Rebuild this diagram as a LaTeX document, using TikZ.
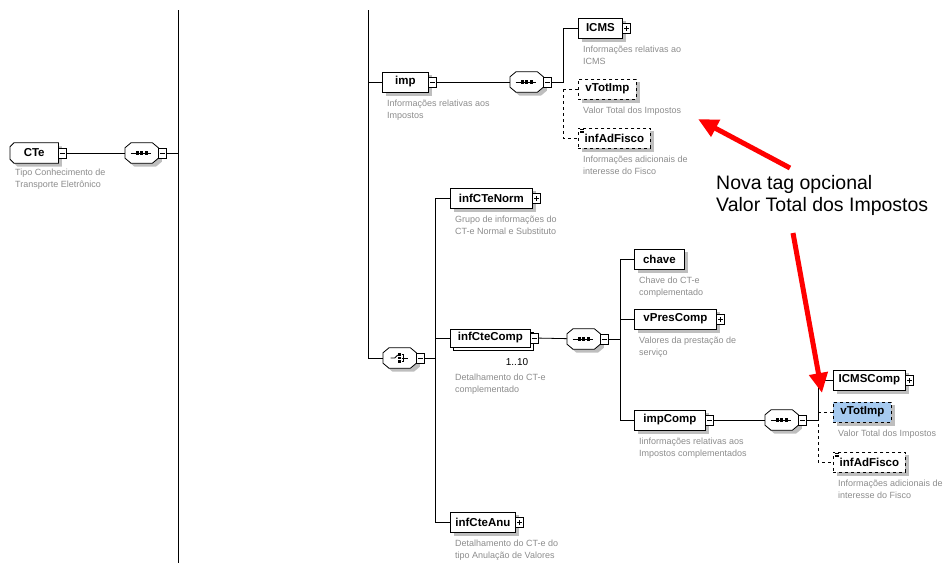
\documentclass[tikz,border=0pt]{standalone}
\usepackage{fontspec}
\setmainfont{Liberation Sans}
\usetikzlibrary{positioning}
\usetikzlibrary{shadows}
\usetikzlibrary{backgrounds}
\usetikzlibrary{arrows.meta}
\definecolor{descgray}{RGB}{140,140,140}
\definecolor{shadegray}{RGB}{190,190,190}
\definecolor{newblue}{RGB}{166,202,240}
\tikzset{
  shade box/.style = {preaction={fill=shadegray, transform canvas={shift={(3.5pt,-3.5pt)}}}},
  elemtext/.style = {minimum width=#1, minimum height=20pt, inner sep=0pt, anchor=west,
    font=\fontsize{11.5}{13}\selectfont\bfseries},
  elembase/.style = {elemtext=#1, draw, fill=white, line width=0.8pt},
  elem/.style = {elembase=#1},
  optelem/.style = {elem=#1, dashed},
  listelem/.style = {optelem=#1, path picture={
      \foreach \k in {1.5pt,3pt,4.5pt}
        \draw[solid, black, line width=0.5pt] ([xshift=2pt, yshift=-\k]path picture bounding box.north west) -- ++(4pt,0);}},
  multielem/.style = {elembase=#1, minimum height=18pt,
    copy shadow={shadow xshift=3pt, shadow yshift=-3pt, draw, fill=white, line width=0.8pt}},
  xbox/.style = {draw, fill=white, line width=0.7pt, minimum width=8pt, minimum height=10pt,
    inner sep=0pt, anchor=west},
  xminus/.style = {xbox, path picture={
      \draw[black, line width=0.7pt] ([xshift=-2.5pt]path picture bounding box.center) -- ([xshift=2.5pt]path picture bounding box.center);}},
  xplus/.style = {xbox, path picture={
      \draw[black, line width=0.7pt] ([xshift=-2.5pt]path picture bounding box.center) -- ([xshift=2.5pt]path picture bounding box.center)
        ([yshift=-2.5pt]path picture bounding box.center) -- ([yshift=2.5pt]path picture bounding box.center);}},
  compositor/.style = {minimum width=33pt, minimum height=20pt, inner sep=0pt, anchor=west},
  seqbox/.style = {compositor, path picture={
      \coordinate (pc) at (path picture bounding box.center);
      \draw[black, line width=1pt] ([xshift=-11pt]pc) -- ([xshift=9pt]pc);
      \foreach \d in {-4.5pt,0pt,4.5pt}
        \fill[black] ([xshift=\d]pc) +(-1.6pt,-1.6pt) rectangle +(1.6pt,1.6pt);}},
  choicebox/.style = {compositor, path picture={
      \coordinate (pc) at (path picture bounding box.center);
      \draw[black, line width=0.9pt] ([xshift=-9pt]pc) -- ([xshift=-5pt]pc) -- ([xshift=-2pt,yshift=3pt]pc);
      \foreach \d in {-3.5pt,0pt,3.5pt}
        \fill[black] ([yshift=\d]pc) +(-1.3pt,-1.3pt) rectangle +(1.3pt,1.3pt);
      \draw[black, line width=0.8pt] ([xshift=2pt,yshift=3.5pt]pc) -- ([xshift=4pt,yshift=3.5pt]pc)
        -- ([xshift=4pt,yshift=-3.5pt]pc) -- ([xshift=2pt,yshift=-3.5pt]pc)
        ([xshift=2pt]pc) -- ([xshift=8pt]pc);}},
  outline/.style = {draw, fill=white, line width=0.8pt, shade box},
  desc/.style = {font=\fontsize{9}{12}\selectfont, text=descgray, align=left, inner sep=0pt},
  card/.style = {font=\fontsize{10}{12}\selectfont, inner sep=0pt},
  note/.style = {font=\fontsize{19.5}{22}\selectfont, align=left, inner sep=0pt, anchor=north west},
  link/.style = {line width=0.8pt},
  redarrow/.style = {draw=red, line width=5pt, -{Triangle[length=20pt, width=18pt]}},
}

\begin{document}
\begin{tikzpicture}[x=1pt, y=-1pt]
  \useasboundingbox (0,0) rectangle (943,563);

  % root element
  \node [elemtext=48pt] (cte) at (10,153) {CTe};
  \node [xminus, right=-0.5pt of cte] (ctex) {};
  \node [desc, below right=6pt and 5pt of cte.south west] (cted) {Tipo Conhecimento de\\Transporte Eletrônico};
  \node [seqbox] (seqcte) at (125,153) {};
  \node [xminus, right=-0.5pt of seqcte] (seqctex) {};
  \coordinate (bar1) at (178,10);
  \coordinate (bar1end) at (178,563);
  \coordinate (bar2) at (368,10);
  \draw [link] (ctex) -- (seqcte);
  \draw [link] (bar1) -- (bar1end);
  \draw [link] (seqctex) -- (seqctex -| bar1);

  % imp
  \node [elem=46pt] (imp) at (382,82) {imp};
  \node [xminus, right=-0.5pt of imp] (impx) {};
  \node [desc, below right=7pt and 5pt of imp.south west] (impd) {Informações relativas aos\\Impostos};
  \node [seqbox] (seqimp) at (510,82) {};
  \node [xminus, right=-0.5pt of seqimp] (seqimpx) {};
  \node [elem=44pt] (icms) at (578,28) {ICMS};
  \node [xplus, right=-0.5pt of icms] (icmsx) {};
  \node [desc, below right=7pt and 5pt of icms.south west] (icmsd) {Informações relativas ao\\ICMS};
  \node [optelem=58pt] (vtot) at (578,89) {vTotImp};
  \node [desc, below right=7pt and 5pt of vtot.south west] (vtotd) {Valor Total dos Impostos};
  \node [listelem=72pt] (adfisco) at (578,138) {infAdFisco};
  \node [desc, below right=7pt and 5pt of adfisco.south west] (adfiscod) {Informações adicionais de\\interesse do Fisco};
  \coordinate (impbar) at ([xshift=-15pt]icms.west);
  \draw [link] (bar2 |- imp) -- (imp);
  \draw [link] (impx) -- (seqimp);
  \draw [link] (seqimpx) -| (impbar) -- (icms);
  \draw [link, dashed] (impbar |- vtot) -- (vtot);
  \draw [link, dashed] (impbar |- vtot) |- (adfisco);

  % choice
  \node [choicebox] (choice) at (383,358) {};
  \node [xminus, right=-0.5pt of choice] (choicex) {};
  \draw [link] (bar2) |- (choice);
  \node [elem=82pt] (norm) at (450,198) {infCTeNorm};
  \node [xplus, right=-0.5pt of norm] (normx) {};
  \node [desc, below right=7pt and 5pt of norm.south west] (normd) {Grupo de informações do\\CT-e Normal e Substituto};
  \node [multielem=80pt] (comp) at (450,338) {infCteComp};
  \node [xminus, right=-0.5pt of comp] (compx) {};
  \node [card] (compn) at (517,362) {1..10};
  \node [desc, below right=26pt and 5pt of comp.south west] (compd) {Detalhamento do CT-e\\complementado};
  \node [elem=65pt] (anu) at (450,522) {infCteAnu};
  \node [xplus, right=-0.5pt of anu] (anux) {};
  \node [desc, below right=7pt and 5pt of anu.south west] (anud) {Detalhamento do CT-e do\\tipo Anulação de Valores};
  \coordinate (chbar) at ([xshift=-15pt]norm.west);
  \draw [link] (choicex) -- (choicex -| chbar);
  \draw [link] (chbar) -- (norm);
  \draw [link] (chbar) |- (anu);
  \draw [link] (chbar |- comp) -- (comp);

  % infCteComp
  \node [seqbox] (seqcomp) at (567,339) {};
  \node [xminus, right=-0.5pt of seqcomp] (seqcompx) {};
  \draw [link] (compx) -- (seqcomp);
  \node [elem=50pt] (chave) at (634,259) {chave};
  \node [desc, below right=7pt and 5pt of chave.south west] (chaved) {Chave do CT-e\\complementado};
  \node [elem=82pt] (vpres) at (634,319) {vPresComp};
  \node [xplus, right=-0.5pt of vpres] (vpresx) {};
  \node [desc, below right=7pt and 5pt of vpres.south west] (vpresd) {Valores da prestação de\\serviço};
  \node [elem=71pt] (impcomp) at (634,420) {impComp};
  \node [xminus, right=-0.5pt of impcomp] (impcompx) {};
  \node [desc, below right=7pt and 5pt of impcomp.south west] (impcompd) {Iinformações relativas aos\\Impostos complementados};
  \coordinate (cpbar) at ([xshift=-14pt]chave.west);
  \draw [link] (seqcompx) -- (seqcompx -| cpbar);
  \draw [link] (cpbar) -- (chave);
  \draw [link] (cpbar) |- (impcomp);
  \draw [link] (cpbar |- vpres) -- (vpres);

  % impComp
  \node [seqbox] (seqimpc) at (765,420) {};
  \node [xminus, right=-0.5pt of seqimpc] (seqimpcx) {};
  \draw [link] (impcompx) -- (seqimpc);
  \node [elem=72pt] (icmsc) at (833,380) {ICMSComp};
  \node [xplus, right=-0.5pt of icmsc] (icmscx) {};
  \node [optelem=58pt, fill=newblue] (vtotc) at (833,412) {vTotImp};
  \node [desc, below right=7pt and 5pt of vtotc.south west] (vtotcd) {Valor Total dos Impostos};
  \node [listelem=72pt] (adfiscoc) at (833,462) {infAdFisco};
  \node [desc, below right=7pt and 5pt of adfiscoc.south west] (adfiscocd) {Informações adicionais de\\interesse do Fisco};
  \coordinate (icbar) at ([xshift=-15pt]icmsc.west);
  \draw [link] (seqimpcx) -| (icbar) -- (icmsc);
  \draw [link, dashed] (icbar |- vtotc) -- (vtotc);
  \draw [link, dashed] (icbar |- vtotc) |- (adfiscoc);

  % shadows and outlines
  \begin{pgfonlayer}{background}
    \foreach \n in {imp, icms, vtot, adfisco, norm, anu, chave, vpres, impcomp, icmsc, vtotc, adfiscoc}
      \fill [shadegray] ([shift={(3.5pt,-3.5pt)}]\n.south west) rectangle ([shift={(3.5pt,-3.5pt)}]\n.north east);
    \foreach \n in {seqcte, seqimp, choice, seqcomp, seqimpc}
      \draw [outline] ([xshift=6pt]\n.north west) -- ([xshift=-6pt]\n.north east)
        -- ([yshift=-5pt]\n.north east) -- ([yshift=5pt]\n.south east)
        -- ([xshift=-6pt]\n.south east) -- ([xshift=6pt]\n.south west)
        -- ([yshift=5pt]\n.south west) -- ([yshift=-5pt]\n.north west) -- cycle;
    \draw [outline] ([xshift=4pt]cte.north west) -- (cte.north east) -- (cte.south east)
      -- ([xshift=4pt]cte.south west) -- ([yshift=4pt]cte.south west)
      -- ([yshift=-4pt]cte.north west) -- cycle;
  \end{pgfonlayer}

  % note
  \node [note] (note) at (716,175) {Nova tag opcional\\Valor Total dos Impostos};
  \coordinate (up) at (790,168);
  \coordinate (uptip) at (698,119);
  \coordinate (down) at (793,233);
  \coordinate (downtip) at (822,393);
  \draw [redarrow] (up) -- (uptip);
  \draw [redarrow] (down) -- (downtip);
\end{tikzpicture}
\end{document}
